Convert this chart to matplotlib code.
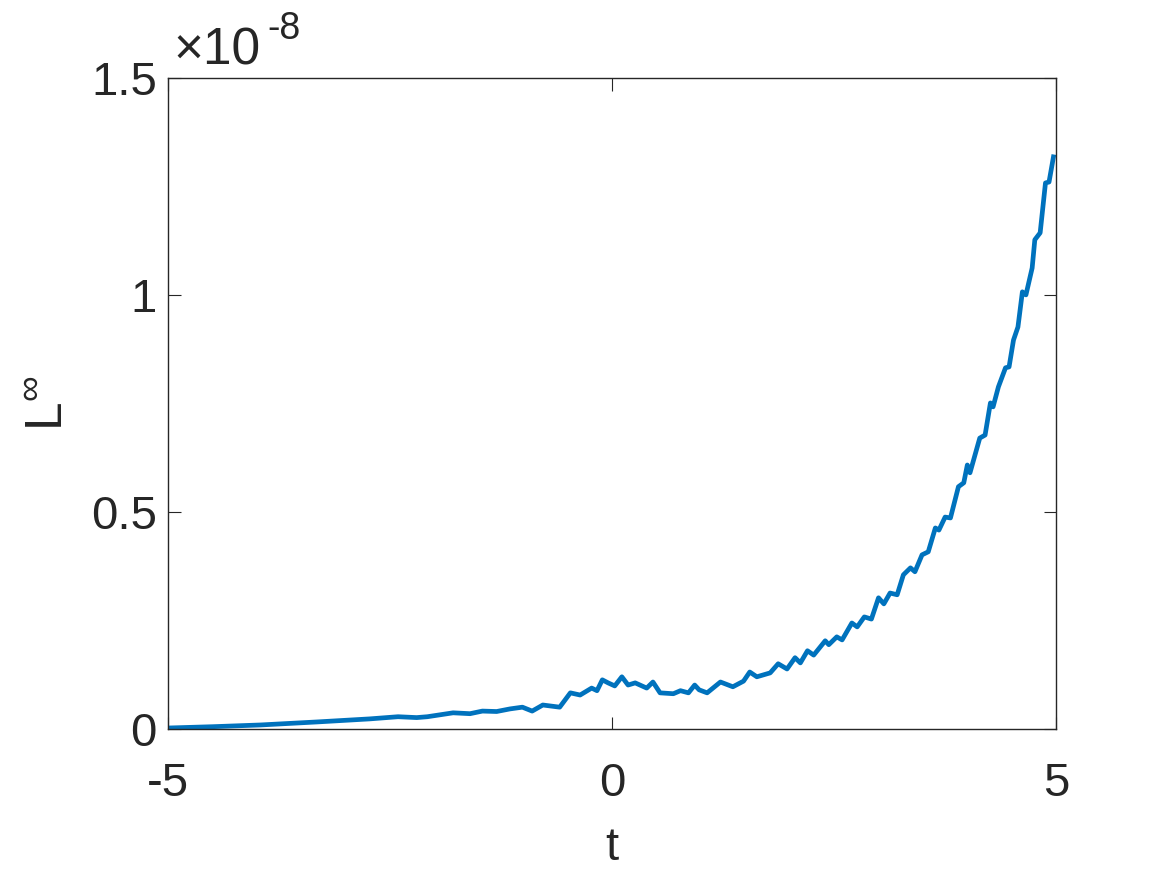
import matplotlib
matplotlib.use("Agg")
import matplotlib.pyplot as plt
import numpy as np

plt.rcParams["font.family"] = ["Liberation Sans", "DejaVu Sans"]
plt.rcParams["mathtext.fontset"] = "custom"
plt.rcParams["mathtext.rm"] = "Liberation Sans"
plt.rcParams["axes.unicode_minus"] = False

# error curve, y in units of 1e-8
t = [-5.00, -4.50, -3.96, -3.32, -2.73, -2.41, -2.20, -2.08, -1.79, -1.60,
     -1.46, -1.30, -1.15, -1.01, -0.90, -0.78, -0.59, -0.47, -0.36, -0.23,
     -0.17, -0.11, -0.045, 0.03, 0.11, 0.18, 0.26, 0.39, 0.46, 0.54,
     0.69, 0.77, 0.86, 0.93, 0.98, 1.07, 1.22, 1.36, 1.48, 1.55,
     1.63, 1.78, 1.87, 1.97, 2.06, 2.12, 2.20, 2.27, 2.40, 2.44,
     2.53, 2.59, 2.70, 2.76, 2.84, 2.92, 3.00, 3.06, 3.13, 3.21,
     3.28, 3.36, 3.41, 3.49, 3.56, 3.64, 3.68, 3.75, 3.81, 3.90,
     3.96, 4.00, 4.03, 4.14, 4.20, 4.26, 4.29, 4.35, 4.43, 4.47,
     4.52, 4.57, 4.62, 4.66, 4.73, 4.76, 4.82, 4.88, 4.92, 4.97]
err = [0.002, 0.005, 0.009, 0.016, 0.023, 0.028, 0.026, 0.028, 0.037, 0.035,
       0.041, 0.040, 0.046, 0.050, 0.041, 0.055, 0.050, 0.083, 0.078, 0.094,
       0.088, 0.113, 0.106, 0.099, 0.120, 0.101, 0.106, 0.094, 0.108, 0.083,
       0.081, 0.088, 0.083, 0.101, 0.090, 0.083, 0.108, 0.097, 0.110, 0.131,
       0.120, 0.129, 0.150, 0.138, 0.164, 0.152, 0.180, 0.170, 0.203, 0.194,
       0.212, 0.205, 0.244, 0.235, 0.258, 0.253, 0.302, 0.288, 0.313, 0.309,
       0.355, 0.371, 0.362, 0.401, 0.408, 0.463, 0.458, 0.488, 0.486, 0.558,
       0.567, 0.608, 0.590, 0.670, 0.677, 0.751, 0.742, 0.788, 0.832, 0.834,
       0.896, 0.926, 1.007, 1.000, 1.062, 1.127, 1.143, 1.258, 1.260, 1.318]

xticks = [-5, 0, 5]
xtick_labels = ["-5", "0", "5"]
yticks = [0, 0.5e-8, 1e-8, 1.5e-8]
ytick_labels = ["0", "0.5", "1", "1.5"]

fig = plt.figure(figsize=(11.67, 8.75), dpi=100)
ax = fig.add_axes([0.144, 0.167, 0.761, 0.744])

ax.plot(t, np.array(err) * 1e-8, color="#0072BD", lw=3.4)

ax.set_xlim(-5, 5)
ax.set_ylim(0, 1.5e-8)
ax.set_xticks(xticks)
ax.set_xticklabels(xtick_labels)
ax.set_yticks(yticks)
ax.set_yticklabels(ytick_labels)
ax.tick_params(direction="in", length=9, width=0.8, labelsize=34,
               top=True, right=True, colors="#262626")
ax.tick_params(axis="x", pad=24)
ax.tick_params(axis="y", pad=8)
for s in ax.spines.values():
    s.set_linewidth(1.0)
    s.set_color("#262626")

ax.set_xlabel("t", fontsize=34, color="#262626", labelpad=14)
ax.set_ylabel(r"L$^{\mathregular{\infty}}$", fontsize=37, color="#262626", labelpad=12)

# exponent label, MATLAB style
fig.text(0.149, 0.926, "\u00d710", fontsize=37, color="#262626",
         ha="left", va="baseline")
fig.text(0.229, 0.955, "-8", fontsize=27, color="#262626",
         ha="left", va="baseline")

fig.savefig("out.png", dpi=100)
